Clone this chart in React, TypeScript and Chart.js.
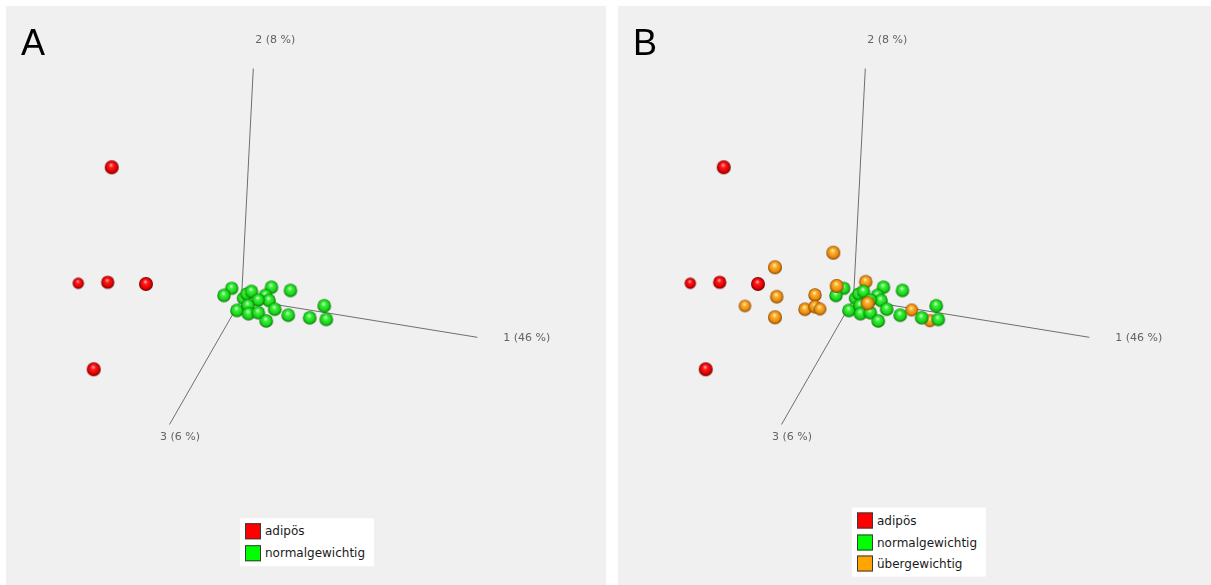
import React, { useEffect, useRef } from "react";
import { Chart, registerables } from "chart.js";

Chart.register(...registerables);

// ---------- data ----------
const panelLabels = ["A", "B"];
const groupNames = ["adipös", "normalgewichtig", "übergewichtig"];
const axisNames = ["1 (46 %)", "2 (8 %)", "3 (6 %)"];
// projected end points of the three principal component axes (origin = 0,0)
const axisEnds: [number, number][] = [
  [23.58, -3.83],
  [1.18, 23.05],
  [-7.2, -12.55],
];

// projected PCA scores [x, y, sphere radius (depth cue)]
const adipos: [number, number, number][] = [
  [-12.98, 13.17, 7],
  [-16.32, 1.57, 5.7],
  [-13.38, 1.67, 6.6],
  [-9.55, 1.5, 7],
  [-14.78, -7.03, 7],
];

const normalgewichtig: [number, number, number][] = [
  [0.18, 0.07, 6.5],
  [-0.98, 1.07, 6.6],
  [-1.75, 0.35, 6.7],
  [0.52, 0.5, 6.6],
  [1.0, 0.75, 6.7],
  [3.0, 1.17, 6.7],
  [4.9, 0.85, 6.7],
  [2.4, 0.35, 6.7],
  [2.75, -0.15, 6.8],
  [1.68, -0.1, 6.6],
  [-0.45, -1.15, 6.8],
  [0.65, -0.65, 6.8],
  [0.7, -1.47, 6.8],
  [1.68, -1.37, 6.8],
  [3.32, -1.02, 6.8],
  [2.47, -2.2, 6.8],
  [4.67, -1.62, 6.8],
  [6.82, -1.88, 6.8],
  [8.27, -0.68, 6.8],
  [8.48, -2.04, 6.8],
];

const uebergewichtig: [number, number, number][] = [
  [-2.02, 4.63, 7],
  [-7.85, 3.17, 7],
  [-7.68, 0.23, 6.7],
  [-10.85, -0.7, 6.2],
  [-7.85, -1.83, 7],
  [-3.85, 0.4, 6.7],
  [-4.85, -1.03, 6.7],
  [-3.85, -0.77, 6.7],
  [-3.35, -1.0, 6.4],
  [-1.68, 1.3, 7],
  [1.22, 1.73, 6.7],
  [1.42, -0.43, 7],
  [5.82, -1.1, 6.5],
  [7.65, -2.17, 6.5],
];
// indices of übergewichtig points lying behind the normalgewichtig cloud
const uebergewichtigHinten = [10, 12, 13];

// ---------- styles ----------
type SphereColors = { hi: string; mid: string; body: string; lo: string };
const SPHERES: SphereColors[] = [
  { hi: "#ffa8a8", mid: "#ff1a1a", body: "#e00000", lo: "#700000" },
  { hi: "#d0ffd0", mid: "#3cf03c", body: "#18d418", lo: "#067006" },
  { hi: "#fff0a8", mid: "#fbb030", body: "#e88a0c", lo: "#844400" },
];
const LEGEND_COLORS = ["#ff0000", "#00ff00", "#ffa500"];

const sphereCache = new Map<string, HTMLCanvasElement>();
function sphere(group: number, r: number): HTMLCanvasElement {
  const key = group + ":" + r;
  const hit = sphereCache.get(key);
  if (hit) return hit;
  const c = SPHERES[group];
  const size = Math.ceil(2 * r + 2);
  const cv = document.createElement("canvas");
  cv.width = size;
  cv.height = size;
  const g = cv.getContext("2d")!;
  const cx = size / 2;
  const cy = size / 2;
  const grad = g.createRadialGradient(cx - r * 0.1, cy - r * 0.35, r * 0.05, cx, cy, r);
  grad.addColorStop(0, c.hi);
  grad.addColorStop(0.3, c.mid);
  grad.addColorStop(0.72, c.body);
  grad.addColorStop(1, c.lo);
  g.beginPath();
  g.arc(cx, cy, r, 0, Math.PI * 2);
  g.fillStyle = grad;
  g.fill();
  sphereCache.set(key, cv);
  return cv;
}

const axisLabelPlacement: { dx: number; dy: number; align: CanvasTextAlign }[] = [
  { dx: 26, dy: 1, align: "left" },
  { dx: 22, dy: -28.5, align: "center" },
  { dx: 10.5, dy: 12.8, align: "center" },
];

const textPlugin = {
  id: "pcaText",
  afterDraw(chart: any, _args: any, opts: any) {
    const ctx: CanvasRenderingContext2D = chart.ctx;
    const xs = chart.scales.x;
    const ys = chart.scales.y;
    ctx.save();
    ctx.font = '11px "DejaVu Sans"';
    ctx.fillStyle = "#636363";
    ctx.textBaseline = "middle";
    axisEnds.forEach((e, i) => {
      const p = axisLabelPlacement[i];
      ctx.textAlign = p.align;
      ctx.fillText(axisNames[i], xs.getPixelForValue(e[0]) + p.dx, ys.getPixelForValue(e[1]) + p.dy);
    });
    ctx.font = '36px "Liberation Sans"';
    ctx.fillStyle = "#000";
    ctx.textAlign = "left";
    ctx.textBaseline = "alphabetic";
    ctx.fillText(opts.label, 15, 49);
    ctx.restore();
  },
};

function pointSet(group: number, pts: [number, number, number][], order: number, label: string) {
  return {
    type: "scatter" as const,
    label,
    order,
    data: pts.map((p) => ({ x: p[0], y: p[1], r: p[2] })),
    pointStyle: (ctx: any) => sphere(group, ctx.raw ? ctx.raw.r : 6.5),
    pointRadius: (ctx: any) => (ctx.raw ? ctx.raw.r : 6.5),
    showLine: false,
    clip: false as any,
  };
}

const W = 600;
const H = 579;

function Panel({ index, groups, left }: { index: number; groups: number; left: number }) {
  const ref = useRef<HTMLCanvasElement | null>(null);
  useEffect(() => {
    if (!ref.current) return;
    const datasets: any[] = axisEnds.map((e, i) => ({
      type: "scatter",
      label: axisNames[i],
      order: 20,
      data: [
        { x: 0, y: 0 },
        { x: e[0], y: e[1] },
      ],
      showLine: true,
      borderColor: "#6e6e6e",
      borderWidth: 1,
      pointRadius: 0,
      clip: false,
    }));
    datasets.push(pointSet(0, adipos, 10, groupNames[0]));
    if (groups > 2) {
      datasets.push(
        pointSet(2, uebergewichtig.filter((_, i) => uebergewichtigHinten.includes(i)), 6, groupNames[2])
      );
    }
    datasets.push(pointSet(1, normalgewichtig, 4, groupNames[1]));
    if (groups > 2) {
      datasets.push(
        pointSet(2, uebergewichtig.filter((_, i) => !uebergewichtigHinten.includes(i)), 2, groupNames[2])
      );
    }
    const chart = new Chart(ref.current, {
      type: "scatter",
      data: { datasets },
      options: {
        animation: false,
        responsive: false,
        devicePixelRatio: 1,
        events: [],
        layout: { padding: 0, autoPadding: false },
        scales: {
          x: { type: "linear", min: -23.55, max: 36.45, display: false },
          y: { type: "linear", min: -28.6, max: 29.3, display: false },
        },
        plugins: {
          legend: { display: false },
          tooltip: { enabled: false },
          pcaText: { label: panelLabels[index] },
        } as any,
      },
      plugins: [textPlugin],
    });
    return () => chart.destroy();
  }, [index, groups]);

  const legendItems = groupNames.slice(0, groups);
  return (
    <div
      style={{
        position: "absolute",
        left,
        top: 6,
        width: W,
        height: H,
        background: "#f0f0f0",
        overflow: "hidden",
      }}
    >
      <canvas ref={ref} width={W} height={H} style={{ display: "block", width: W, height: H }} />
      <div
        style={{
          position: "absolute",
          left: 234,
          top: 536,
          transform: "translateY(-50%)",
          width: 134,
          boxSizing: "border-box",
          background: "#ffffff",
          padding: "5px 5px",
          display: "flex",
          flexDirection: "column",
          gap: 5.5,
        }}
      >
        {legendItems.map((name, i) => (
          <div key={name} style={{ display: "flex", alignItems: "center", height: 16 }}>
            <div
              style={{
                width: 16,
                height: 16,
                boxSizing: "border-box",
                background: LEGEND_COLORS[i],
                border: "1.5px solid #3a3a3a",
                flex: "none",
              }}
            />
            <span
              style={{
                marginLeft: 4,
                font: '12px "DejaVu Sans"',
                color: "#1a1a1a",
                whiteSpace: "nowrap",
              }}
            >
              {name}
            </span>
          </div>
        ))}
      </div>
    </div>
  );
}

export default function App() {
  return (
    <div
      style={{
        position: "fixed",
        left: 0,
        top: 0,
        width: 1211,
        height: 585,
        background: "#ffffff",
        overflow: "hidden",
      }}
    >
      <Panel index={0} groups={2} left={6} />
      <Panel index={1} groups={3} left={618} />
    </div>
  );
}
